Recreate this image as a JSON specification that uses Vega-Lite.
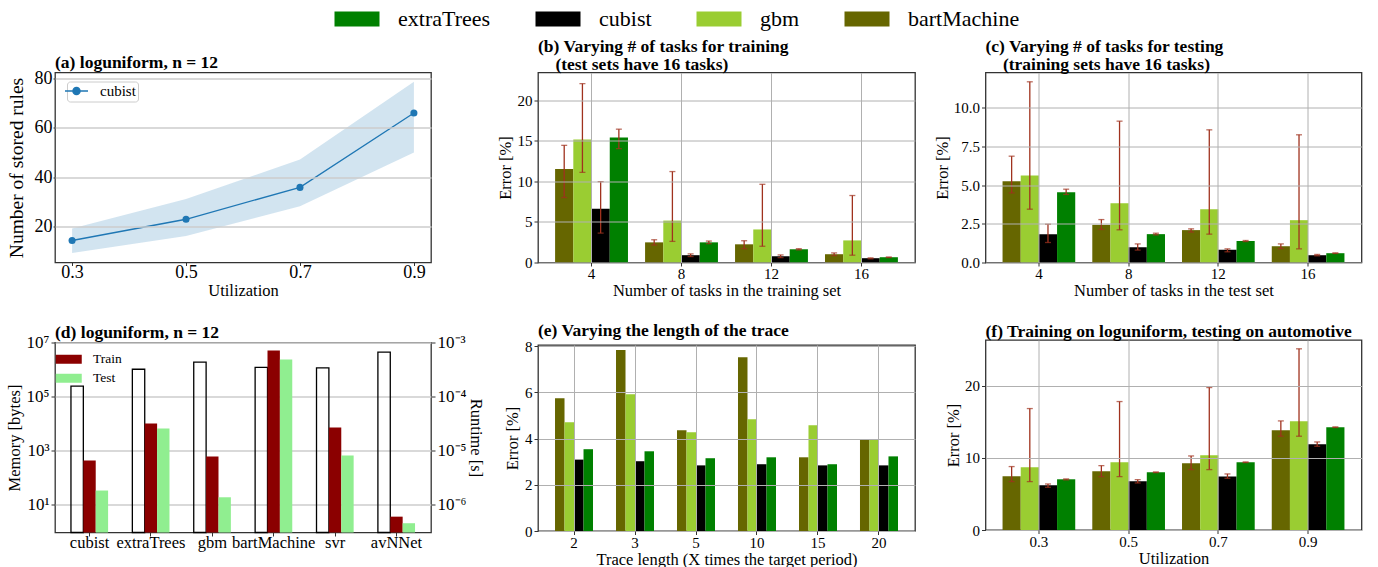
{
  "$schema": "https://vega.github.io/schema/vega-lite/v6.json",
  "padding": {"left": 5, "top": 5, "right": 5, "bottom": 2},
  "background": "white",
  "config": {
    "font": "Liberation Serif",
    "view": {"stroke": "#333333", "strokeWidth": 1.3},
    "axis": {"domain": false, "grid": false, "tickColor": "#333333", "tickSize": 4, "labelColor": "black", "titleColor": "black", "labelFont": "Liberation Serif", "titleFont": "Liberation Serif", "titleFontWeight": "normal", "labelFontSize": 15, "titleFontSize": 16.5, "gridColor": "#b0b0b0", "gridWidth": 1, "labelPadding": 2, "titlePadding": 4},
    "axisX": {"tickSize": 3.5, "labelPadding": 0.5, "titlePadding": 1},
    "title": {"font": "Liberation Serif", "fontSize": 17.5, "fontWeight": "bold", "anchor": "start", "frame": "group", "color": "black", "baseline": "alphabetic", "offset": 2.5},
    "legend": {"labelFont": "Liberation Serif", "labelColor": "black"}
  },
  "spacing": 6.5,
  "resolve": {"scale": {"color": "independent", "x": "independent", "y": "independent", "xOffset": "independent"}, "legend": {"color": "independent"}},
  "vconcat": [
    {
      "width": 1, "height": 1,
      "view": {"stroke": null},
      "data": {"values": [{"model": "extraTrees"}, {"model": "cubist"}, {"model": "gbm"}, {"model": "bartMachine"}]},
      "mark": {"type": "square", "opacity": 0},
      "encoding": {
        "color": {"field": "model", "type": "nominal", "scale": {"domain": ["extraTrees", "cubist", "gbm", "bartMachine"], "range": ["#008000", "#000000", "#9acd32", "#666600"]}, "legend": {"title": null, "orient": "none", "legendX": 291, "legendY": 0, "direction": "horizontal", "columns": 4, "symbolType": "M-3,-1H3V1H-3Z", "symbolSize": 225, "symbolStrokeWidth": 0, "labelFontSize": 22, "labelOffset": 30, "columnPadding": 44, "padding": 0, "encode": {"symbols": {"update": {"opacity": {"value": 1}}}}}}
      }
    },
    {
      "columns": 2,
      "align": "each",
      "spacing": 11,
      "resolve": {"scale": {"color": "independent", "x": "independent", "y": "independent", "xOffset": "independent"}, "legend": {"color": "independent"}},
      "concat": [
        {
          "spacing": 22,
          "resolve": {"scale": {"color": "independent", "x": "independent", "y": "independent", "xOffset": "independent"}, "legend": {"color": "independent"}},
          "vconcat": [
            {
              "width": 376, "height": 190,
              "title": {"text": "(a) loguniform, n = 12", "offset": -2.5},
              "data": {"values": [
                {"u": 0.3, "v": 14.4, "lo": 9.3, "hi": 19.3, "s": "cubist"},
                {"u": 0.5, "v": 23.0, "lo": 16.2, "hi": 31.2, "s": "cubist"},
                {"u": 0.7, "v": 35.9, "lo": 28.3, "hi": 47.2, "s": "cubist"},
                {"u": 0.9, "v": 66.0, "lo": 50.0, "hi": 78.7, "s": "cubist"}
              ]},
              "layer": [
                {
                  "mark": {"type": "area", "color": "#1f77b4", "opacity": 0.2},
                  "encoding": {
                    "x": {"field": "u", "type": "quantitative", "scale": {"domain": [0.27, 0.93], "nice": false}, "axis": {"values": [0.3, 0.5, 0.7, 0.9], "format": ".1f", "title": "Utilization", "labelFontSize": 18, "tickSize": 3, "labelPadding": -2}},
                    "y": {"field": "lo", "type": "quantitative", "scale": {"domain": [5.5, 82.4], "nice": false}, "axis": {"values": [20, 40, 60, 80], "title": "Number of stored rules", "titleFontSize": 19.5, "labelFontSize": 18, "grid": true, "gridColor": "#cccccc", "gridWidth": 1.5, "tickSize": 2, "labelPadding": 1, "titlePadding": 8, "zindex": 1}},
                    "y2": {"field": "hi"}
                  }
                },
                {
                  "mark": {"type": "line", "strokeWidth": 1.3, "point": {"filled": true, "size": 50}},
                  "encoding": {
                    "x": {"field": "u", "type": "quantitative"},
                    "y": {"field": "v", "type": "quantitative"},
                    "color": {"field": "s", "type": "nominal", "scale": {"range": ["#1f77b4"]}, "legend": {"title": null, "orient": "none", "legendX": 12, "legendY": 9, "symbolType": "M-3.286,0H3.286M1,0A1,1,0,1,1,-1,0A1,1,0,1,1,1,0Z", "symbolSize": 49, "symbolStrokeWidth": 1.5, "labelFontSize": 15, "labelOffset": 16, "padding": 2, "strokeColor": "#cccccc", "fillColor": "white", "cornerRadius": 3, "encode": {"symbols": {"update": {"stroke": {"value": "#1f77b4"}, "strokeWidth": {"value": 1.5}, "fill": {"value": "#1f77b4"}, "opacity": {"value": 1}}}}}}
                  }
                }
              ]
            },
            {
              "width": 376, "height": 190,
              "title": {"text": "(d) loguniform, n = 12", "offset": -7.5},
              "encoding": {
                "x": {"field": "m", "type": "nominal", "sort": ["cubist", "extraTrees", "gbm", "bartMachine", "svr", "avNNet"], "scale": {"paddingInner": 0.395, "paddingOuter": 0.26}, "axis": {"title": null, "labelAngle": 0, "labelFontSize": 16.5, "labelPadding": -2}},
                "xOffset": {"field": "k", "type": "nominal", "scale": {"domain": ["mem", "Train", "Test"]}}
              },
              "layer": [
                {
                  "data": {"values": [
                    {"m": "cubist", "k": "mem", "v": 240000},
                    {"m": "extraTrees", "k": "mem", "v": 1020000},
                    {"m": "gbm", "k": "mem", "v": 1860000},
                    {"m": "bartMachine", "k": "mem", "v": 1200000},
                    {"m": "svr", "k": "mem", "v": 1150000},
                    {"m": "avNNet", "k": "mem", "v": 4400000}
                  ]},
                  "mark": {"type": "bar", "filled": false, "color": "black", "strokeWidth": 1.3},
                  "encoding": {
                    "y": {"field": "v", "type": "quantitative", "stack": null, "scale": {"type": "log", "domain": [0.91, 10000000], "nice": false}, "axis": {"orient": "left", "title": "Memory [bytes]", "values": [10, 1000, 100000, 10000000], "labelExpr": "datum.value >= 1e6 ? '10⁷' : datum.value >= 1e4 ? '10⁵' : datum.value >= 100 ? '10³' : '10¹'", "labelFontSize": 17, "grid": true, "gridColor": "#cccccc", "gridWidth": 1.5}},
                    "y2": {"datum": 0.91}
                  }
                },
                {
                  "data": {"values": [
                    {"m": "cubist", "k": "Train", "v": 6.46e-6},
                    {"m": "extraTrees", "k": "Train", "v": 3.14e-5},
                    {"m": "gbm", "k": "Train", "v": 7.67e-6},
                    {"m": "bartMachine", "k": "Train", "v": 7.1e-4},
                    {"m": "svr", "k": "Train", "v": 2.65e-5},
                    {"m": "avNNet", "k": "Train", "v": 5.9e-7},
                    {"m": "cubist", "k": "Test", "v": 1.8e-6},
                    {"m": "extraTrees", "k": "Test", "v": 2.54e-5},
                    {"m": "gbm", "k": "Test", "v": 1.35e-6},
                    {"m": "bartMachine", "k": "Test", "v": 4.84e-4},
                    {"m": "svr", "k": "Test", "v": 8.0e-6},
                    {"m": "avNNet", "k": "Test", "v": 4.46e-7}
                  ]},
                  "mark": {"type": "bar"},
                  "encoding": {
                    "y": {"field": "v", "type": "quantitative", "stack": null, "scale": {"type": "log", "domain": [3.0e-7, 1.0e-3], "nice": false}, "axis": {"orient": "right", "title": "Runtime [s]", "values": [1e-6, 1e-5, 1e-4, 1e-3], "labelExpr": "datum.value >= 5e-4 ? '10⁻³' : datum.value >= 5e-5 ? '10⁻⁴' : datum.value >= 5e-6 ? '10⁻⁵' : '10⁻⁶'", "labelFontSize": 17, "titlePadding": 2}},
                    "y2": {"datum": 3.0e-7},
                    "color": {"field": "k", "type": "nominal", "scale": {"domain": ["Train", "Test"], "range": ["#8b0000", "#90ee90"]}, "legend": {"title": null, "orient": "none", "legendX": 7, "legendY": 10, "symbolType": "M-2.889,-1H2.889V1H-2.889Z", "symbolSize": 81, "symbolStrokeWidth": 0, "labelFontSize": 13.5, "labelOffset": 17.5, "rowPadding": 4, "padding": 0}}
                  }
                }
              ],
              "resolve": {"scale": {"y": "independent"}}
            }
          ]
        },
        {
          "columns": 2,
          "align": "each",
          "spacing": 17.5,
          "resolve": {"scale": {"color": "independent", "x": "independent", "y": "independent", "xOffset": "independent"}, "legend": {"color": "independent"}},
          "concat": [
            {
              "spacing": 20.5,
              "resolve": {"scale": {"color": "independent", "x": "independent", "y": "independent", "xOffset": "independent"}, "legend": {"color": "independent"}},
              "vconcat": [
                {
                  "width": 377, "height": 190,
                  "title": {"text": ["(b) Varying # of tasks for training", "⠀ (test sets have 16 tasks)"], "lineHeight": 18.6, "offset": -1.5},
                  "data": {"values": [
                    {"n": 4, "model": "bartMachine", "e": 11.5, "lo": 8.0, "hi": 14.43},
                    {"n": 4, "model": "gbm", "e": 15.16, "lo": 11.1, "hi": 22.03},
                    {"n": 4, "model": "cubist", "e": 6.63, "lo": 3.62, "hi": 9.96},
                    {"n": 4, "model": "extraTrees", "e": 15.4, "lo": 14.02, "hi": 16.42},
                    {"n": 8, "model": "bartMachine", "e": 2.48, "lo": 2.15, "hi": 2.8},
                    {"n": 8, "model": "gbm", "e": 5.16, "lo": 2.6, "hi": 11.2},
                    {"n": 8, "model": "cubist", "e": 0.9, "lo": 0.73, "hi": 1.06},
                    {"n": 8, "model": "extraTrees", "e": 2.48, "lo": 2.32, "hi": 2.64},
                    {"n": 12, "model": "bartMachine", "e": 2.24, "lo": 1.7, "hi": 2.68},
                    {"n": 12, "model": "gbm", "e": 4.07, "lo": 2.0, "hi": 9.63},
                    {"n": 12, "model": "cubist", "e": 0.77, "lo": 0.6, "hi": 0.93},
                    {"n": 12, "model": "extraTrees", "e": 1.63, "lo": 1.55, "hi": 1.7},
                    {"n": 16, "model": "bartMachine", "e": 1.02, "lo": 0.85, "hi": 1.18},
                    {"n": 16, "model": "gbm", "e": 2.72, "lo": 0.9, "hi": 8.25},
                    {"n": 16, "model": "cubist", "e": 0.53, "lo": 0.45, "hi": 0.57},
                    {"n": 16, "model": "extraTrees", "e": 0.65, "lo": 0.6, "hi": 0.68}
                  ]},
                  "encoding": {
                    "x": {"field": "n", "type": "ordinal", "scale": {"paddingInner": 0.19, "paddingOuter": 0.19}, "axis": {"title": "Number of tasks in the training set", "labelAngle": 0, "grid": true, "bandPosition": 0.5, "zindex": 1}},
                    "xOffset": {"field": "model", "type": "nominal", "scale": {"domain": ["bartMachine", "gbm", "cubist", "extraTrees"]}}
                  },
                  "layer": [
                    {
                      "mark": {"type": "bar"},
                      "encoding": {
                        "y": {"field": "e", "type": "quantitative", "scale": {"domain": [0, 23.4], "nice": false}, "axis": {"title": "Error [%]", "values": [0, 5, 10, 15, 20], "grid": true, "zindex": 1}},
                        "color": {"field": "model", "type": "nominal", "scale": {"domain": ["extraTrees", "cubist", "gbm", "bartMachine"], "range": ["#008000", "#000000", "#9acd32", "#666600"]}, "legend": null}
                      }
                    },
                    {"mark": {"type": "rule", "color": "#a0321e", "strokeWidth": 1.3}, "encoding": {"y": {"field": "lo", "type": "quantitative"}, "y2": {"field": "hi"}}},
                    {"mark": {"type": "tick", "color": "#a0321e", "thickness": 1.3, "size": 6}, "encoding": {"y": {"field": "lo", "type": "quantitative"}}},
                    {"mark": {"type": "tick", "color": "#a0321e", "thickness": 1.3, "size": 6}, "encoding": {"y": {"field": "hi", "type": "quantitative"}}}
                  ]
                },
                {
                  "width": 377, "height": 186,
                  "title": {"text": "(e) Varying the length of the trace", "offset": 0},
                  "data": {"values": [
                    {"n": 2, "model": "bartMachine", "e": 5.75}, {"n": 2, "model": "gbm", "e": 4.71}, {"n": 2, "model": "cubist", "e": 3.09}, {"n": 2, "model": "extraTrees", "e": 3.54},
                    {"n": 3, "model": "bartMachine", "e": 7.83}, {"n": 3, "model": "gbm", "e": 5.92}, {"n": 3, "model": "cubist", "e": 3.02}, {"n": 3, "model": "extraTrees", "e": 3.45},
                    {"n": 5, "model": "bartMachine", "e": 4.36}, {"n": 5, "model": "gbm", "e": 4.27}, {"n": 5, "model": "cubist", "e": 2.84}, {"n": 5, "model": "extraTrees", "e": 3.15},
                    {"n": 10, "model": "bartMachine", "e": 7.52}, {"n": 10, "model": "gbm", "e": 4.84}, {"n": 10, "model": "cubist", "e": 2.89}, {"n": 10, "model": "extraTrees", "e": 3.19},
                    {"n": 15, "model": "bartMachine", "e": 3.19}, {"n": 15, "model": "gbm", "e": 4.58}, {"n": 15, "model": "cubist", "e": 2.84}, {"n": 15, "model": "extraTrees", "e": 2.89},
                    {"n": 20, "model": "bartMachine", "e": 3.97}, {"n": 20, "model": "gbm", "e": 3.97}, {"n": 20, "model": "cubist", "e": 2.84}, {"n": 20, "model": "extraTrees", "e": 3.23}
                  ]},
                  "mark": {"type": "bar"},
                  "encoding": {
                    "x": {"field": "n", "type": "ordinal", "scale": {"paddingInner": 0.377, "paddingOuter": 0.279}, "axis": {"title": "Trace length (X times the target period)", "labelAngle": 0, "grid": true, "bandPosition": 0.5, "zindex": 1}},
                    "xOffset": {"field": "model", "type": "nominal", "scale": {"domain": ["bartMachine", "gbm", "cubist", "extraTrees"]}},
                    "y": {"field": "e", "type": "quantitative", "scale": {"domain": [0, 8.05], "nice": false}, "axis": {"title": "Error [%]", "values": [0, 2, 4, 6, 8], "grid": true, "zindex": 1}},
                    "color": {"field": "model", "type": "nominal", "scale": {"domain": ["extraTrees", "cubist", "gbm", "bartMachine"], "range": ["#008000", "#000000", "#9acd32", "#666600"]}, "legend": null}
                  }
                }
              ]
            },
            {
              "spacing": 20.5,
              "resolve": {"scale": {"color": "independent", "x": "independent", "y": "independent", "xOffset": "independent"}, "legend": {"color": "independent"}},
              "vconcat": [
                {
                  "width": 376, "height": 190,
                  "title": {"text": ["(c) Varying # of tasks for testing", "⠀ (training sets have 16 tasks)"], "lineHeight": 18.6, "offset": -1.5},
                  "data": {"values": [
                    {"n": 4, "model": "bartMachine", "e": 5.25, "lo": 4.49, "hi": 6.86},
                    {"n": 4, "model": "gbm", "e": 5.61, "lo": 3.44, "hi": 11.66},
                    {"n": 4, "model": "cubist", "e": 1.83, "lo": 1.29, "hi": 2.47},
                    {"n": 4, "model": "extraTrees", "e": 4.54, "lo": 4.39, "hi": 4.73},
                    {"n": 8, "model": "bartMachine", "e": 2.43, "lo": 2.13, "hi": 2.77},
                    {"n": 8, "model": "gbm", "e": 3.83, "lo": 2.11, "hi": 9.12},
                    {"n": 8, "model": "cubist", "e": 0.99, "lo": 0.8, "hi": 1.2},
                    {"n": 8, "model": "extraTrees", "e": 1.83, "lo": 1.78, "hi": 1.89},
                    {"n": 12, "model": "bartMachine", "e": 2.09, "lo": 1.96, "hi": 2.17},
                    {"n": 12, "model": "gbm", "e": 3.44, "lo": 1.83, "hi": 8.56},
                    {"n": 12, "model": "cubist", "e": 0.82, "lo": 0.69, "hi": 0.88},
                    {"n": 12, "model": "extraTrees", "e": 1.38, "lo": 1.35, "hi": 1.42},
                    {"n": 16, "model": "bartMachine", "e": 1.05, "lo": 0.9, "hi": 1.2},
                    {"n": 16, "model": "gbm", "e": 2.73, "lo": 0.88, "hi": 8.24},
                    {"n": 16, "model": "cubist", "e": 0.47, "lo": 0.43, "hi": 0.52},
                    {"n": 16, "model": "extraTrees", "e": 0.6, "lo": 0.58, "hi": 0.62}
                  ]},
                  "encoding": {
                    "x": {"field": "n", "type": "ordinal", "scale": {"paddingInner": 0.19, "paddingOuter": 0.19}, "axis": {"title": "Number of tasks in the test set", "labelAngle": 0, "grid": true, "bandPosition": 0.5, "zindex": 1}},
                    "xOffset": {"field": "model", "type": "nominal", "scale": {"domain": ["bartMachine", "gbm", "cubist", "extraTrees"]}}
                  },
                  "layer": [
                    {
                      "mark": {"type": "bar"},
                      "encoding": {
                        "y": {"field": "e", "type": "quantitative", "scale": {"domain": [0, 12.26], "nice": false}, "axis": {"title": "Error [%]", "values": [0, 2.5, 5, 7.5, 10], "format": ".1f", "grid": true, "zindex": 1, "titlePadding": 3}},
                        "color": {"field": "model", "type": "nominal", "scale": {"domain": ["extraTrees", "cubist", "gbm", "bartMachine"], "range": ["#008000", "#000000", "#9acd32", "#666600"]}, "legend": null}
                      }
                    },
                    {"mark": {"type": "rule", "color": "#a0321e", "strokeWidth": 1.3}, "encoding": {"y": {"field": "lo", "type": "quantitative"}, "y2": {"field": "hi"}}},
                    {"mark": {"type": "tick", "color": "#a0321e", "thickness": 1.3, "size": 6}, "encoding": {"y": {"field": "lo", "type": "quantitative"}}},
                    {"mark": {"type": "tick", "color": "#a0321e", "thickness": 1.3, "size": 6}, "encoding": {"y": {"field": "hi", "type": "quantitative"}}}
                  ]
                },
                {
                  "width": 376, "height": 190,
                  "title": {"text": "(f) Training on loguniform, testing on automotive", "offset": 0},
                  "data": {"values": [
                    {"n": 0.3, "model": "bartMachine", "e": 7.44, "lo": 6.7, "hi": 8.78},
                    {"n": 0.3, "model": "gbm", "e": 8.68, "lo": 6.7, "hi": 16.81},
                    {"n": 0.3, "model": "cubist", "e": 6.19, "lo": 5.91, "hi": 6.37},
                    {"n": 0.3, "model": "extraTrees", "e": 7.02, "lo": 6.93, "hi": 7.07},
                    {"n": 0.5, "model": "bartMachine", "e": 8.13, "lo": 7.39, "hi": 8.91},
                    {"n": 0.5, "model": "gbm", "e": 9.38, "lo": 7.39, "hi": 17.78},
                    {"n": 0.5, "model": "cubist", "e": 6.74, "lo": 6.51, "hi": 6.97},
                    {"n": 0.5, "model": "extraTrees", "e": 7.99, "lo": 7.94, "hi": 8.04},
                    {"n": 0.7, "model": "bartMachine", "e": 9.24, "lo": 8.36, "hi": 10.25},
                    {"n": 0.7, "model": "gbm", "e": 10.35, "lo": 8.36, "hi": 19.72},
                    {"n": 0.7, "model": "cubist", "e": 7.39, "lo": 7.16, "hi": 7.76},
                    {"n": 0.7, "model": "extraTrees", "e": 9.38, "lo": 9.33, "hi": 9.42},
                    {"n": 0.9, "model": "bartMachine", "e": 13.81, "lo": 12.98, "hi": 15.1},
                    {"n": 0.9, "model": "gbm", "e": 15.06, "lo": 12.98, "hi": 25.08},
                    {"n": 0.9, "model": "cubist", "e": 11.87, "lo": 11.59, "hi": 12.19},
                    {"n": 0.9, "model": "extraTrees", "e": 14.23, "lo": 14.18, "hi": 14.27}
                  ]},
                  "encoding": {
                    "x": {"field": "n", "type": "ordinal", "scale": {"paddingInner": 0.19, "paddingOuter": 0.19}, "axis": {"title": "Utilization", "labelAngle": 0, "grid": true, "bandPosition": 0.5, "zindex": 1}},
                    "xOffset": {"field": "model", "type": "nominal", "scale": {"domain": ["bartMachine", "gbm", "cubist", "extraTrees"]}}
                  },
                  "layer": [
                    {
                      "mark": {"type": "bar"},
                      "encoding": {
                        "y": {"field": "e", "type": "quantitative", "scale": {"domain": [0, 26.3], "nice": false}, "axis": {"title": "Error [%]", "values": [0, 10, 20], "grid": true, "zindex": 1, "titlePadding": 3}},
                        "color": {"field": "model", "type": "nominal", "scale": {"domain": ["extraTrees", "cubist", "gbm", "bartMachine"], "range": ["#008000", "#000000", "#9acd32", "#666600"]}, "legend": null}
                      }
                    },
                    {"mark": {"type": "rule", "color": "#a0321e", "strokeWidth": 1.3}, "encoding": {"y": {"field": "lo", "type": "quantitative"}, "y2": {"field": "hi"}}},
                    {"mark": {"type": "tick", "color": "#a0321e", "thickness": 1.3, "size": 6}, "encoding": {"y": {"field": "lo", "type": "quantitative"}}},
                    {"mark": {"type": "tick", "color": "#a0321e", "thickness": 1.3, "size": 6}, "encoding": {"y": {"field": "hi", "type": "quantitative"}}}
                  ]
                }
              ]
            }
          ]
        }
      ]
    }
  ]
}
